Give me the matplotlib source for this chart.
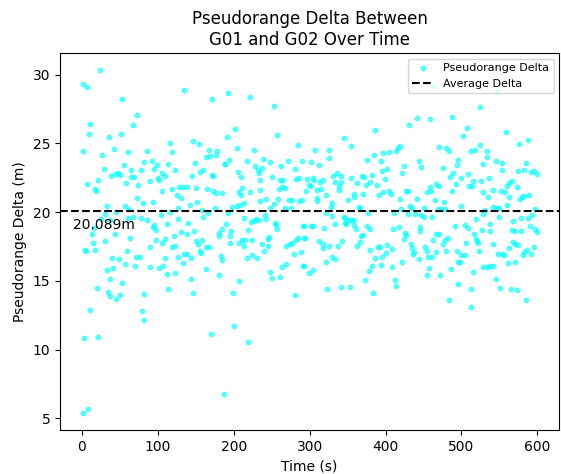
import matplotlib.pyplot as plt

# values (time in s, delta in m)
time_s = [
    24, 1, 7, 53, 73, 11, 67, 9, 51, 35, 2, 42, 61, 27, 82, 55, 29, 65, 78, 38,
    43, 47, 50, 64, 69, 21, 58, 6, 74, 17, 18, 73, 80, 33, 57, 62, 45, 31, 67, 60,
    78, 25, 37, 13, 44, 16, 63, 30, 14, 4, 5, 17, 59, 39, 71, 77, 49, 41, 33, 57,
    70, 37, 53, 20, 34, 37, 45, 50, 82, 10, 79, 82, 3, 21, 2, 8,
    135, 171, 116, 146, 154, 118, 168, 178, 86, 92, 99, 163, 169, 176, 149, 188, 95, 122, 114, 160,
    156, 106, 110, 100, 102, 145, 171, 173, 90, 106, 119, 125, 130, 128, 133, 138, 150, 165, 173, 177,
    185, 94, 151, 142, 126, 175, 158, 166, 116, 104, 127, 160, 86, 95, 93, 98, 140, 112, 130, 138,
    147, 180, 185, 121, 180, 97, 110, 150, 158, 105, 153, 90, 118, 123, 163, 168, 155, 157, 134, 139,
    127, 143, 109, 101, 107, 89, 133, 183, 184, 164, 180, 112, 122, 143, 114, 146, 170, 187,
    193, 222, 253, 202, 257, 191, 285, 204, 227, 290, 189, 194, 218, 239, 248, 271, 228, 237, 232, 233,
    262, 281, 205, 210, 251, 286, 282, 235, 261, 265, 211, 207, 221, 235, 259, 264, 268, 209, 273, 277,
    286, 290, 234, 242, 258, 198, 204, 208, 213, 248, 253, 268, 275, 192, 214, 241, 243, 223, 226, 229,
    233, 254, 255, 257, 291, 190, 197, 219, 195, 245, 246, 195, 207, 211, 215, 224, 214, 237, 245, 240,
    269, 274, 277, 282, 285, 292, 289, 280, 217, 224, 230, 248, 250, 261, 263, 269, 291, 207, 199, 281,
    200, 219,
    386, 345, 355, 307, 326, 325, 397, 385, 302, 312, 376, 394, 395, 297, 305, 306, 314, 317, 299, 302,
    331, 336, 341, 333, 338, 341, 339, 354, 363, 369, 371, 382, 374, 380, 389, 295, 309, 315, 309, 310,
    321, 329, 328, 351, 358, 359, 370, 391, 396, 365, 366, 377, 322, 329, 345, 347, 350, 354, 358, 346,
    348, 359, 361, 375, 379, 293, 302, 305, 319, 333, 370, 368, 294, 312, 318, 317, 325, 337, 343, 366,
    362, 379, 390, 393, 386, 395, 330, 334, 321, 293, 304, 299, 382, 378, 394, 373, 323, 341, 353, 383,
    463, 431, 441, 458, 488, 502, 471, 480, 484, 404, 414, 416, 419, 444, 447, 424, 402, 422, 475, 495,
    494, 489, 485, 499, 399, 458, 454, 460, 467, 470, 405, 407, 427, 429, 419, 442, 465, 477, 488, 493,
    499, 432, 435, 420, 411, 430, 439, 450, 469, 473, 478, 447, 451, 461, 410, 418, 446, 445, 426, 424,
    427, 466, 470, 463, 491, 478, 482, 476, 434, 435, 402, 408, 401, 452, 454, 436, 438, 456, 461, 466,
    480, 494, 500, 444, 422, 409, 457, 455, 472, 486, 496, 498, 412, 414, 496, 483,
    547, 524, 507, 558, 576, 587, 525, 512, 518, 533, 534, 545, 554, 529, 585, 553, 574, 583, 592, 596,
    599, 508, 515, 514, 510, 526, 536, 542, 528, 535, 552, 557, 562, 566, 560, 573, 563, 577, 580, 582,
    589, 560, 541, 547, 550, 531, 597, 550, 529, 593, 588, 578, 519, 538, 504, 509, 527, 538, 516, 519,
    520, 522, 523, 506, 568, 566, 570, 579, 590, 597, 599, 541, 568, 570, 575, 562, 504, 548, 554, 556,
    582, 586, 581, 592, 595, 571, 561, 529, 533, 538, 542, 515, 545, 551, 565, 573, 585, 513, 512,
]

delta_m = [
    30.32, 29.35, 29.10, 28.23, 27.04, 26.39, 26.32, 25.71, 25.71, 25.45, 24.45, 24.60, 24.38, 24.16, 23.65, 23.43, 23.12, 23.05, 23.05, 22.66,
    22.78, 22.83, 22.68, 22.54, 22.54, 22.32, 22.15, 22.03, 21.96, 21.69, 21.57, 21.06, 20.70, 20.46, 20.46, 20.26, 20.02, 19.90, 19.63, 19.56,
    19.56, 19.51, 19.41, 18.44, 18.44, 18.86, 18.11, 17.89, 17.72, 17.28, 17.14, 17.28, 17.21, 16.70, 16.77, 16.72, 16.56, 15.97, 15.78, 16.24,
    16.09, 15.13, 14.84, 14.47, 14.18, 13.89, 13.70, 13.96, 14.04, 12.92, 12.78, 12.17, 10.84, 10.91, 5.41, 5.65,
    28.91, 28.23, 25.06, 25.20, 24.99, 24.38, 24.53, 24.45, 24.45, 23.70, 23.46, 24.04, 24.11, 24.19, 23.58, 23.51, 23.12, 23.05, 23.51, 23.07,
    22.95, 22.85, 22.64, 22.49, 22.37, 22.61, 22.68, 22.64, 22.25, 21.57, 21.71, 21.28, 21.04, 21.84, 21.81, 21.81, 21.74, 21.71, 21.57, 21.40,
    21.42, 20.77, 20.77, 20.53, 20.33, 20.31, 20.12, 19.95, 20.02, 19.78, 19.49, 19.66, 19.41, 19.03, 18.90, 18.71, 19.22, 19.12, 18.54, 18.44,
    18.61, 18.47, 18.81, 18.23, 18.25, 18.01, 18.08, 17.89, 17.94, 17.79, 17.65, 17.43, 17.45, 17.52, 17.45, 17.45, 17.16, 17.04, 16.92, 16.97,
    16.75, 16.63, 16.68, 15.95, 16.12, 16.00, 16.31, 16.80, 16.51, 15.88, 15.44, 15.51, 15.59, 15.13, 14.40, 14.11, 11.15, 6.79,
    28.67, 28.40, 27.72, 26.03, 25.64, 25.49, 24.89, 24.69, 24.53, 23.75, 23.51, 23.80, 23.70, 23.87, 23.65, 23.73, 23.34, 23.22, 23.10, 22.85,
    23.36, 23.14, 22.90, 22.54, 22.54, 22.47, 22.39, 22.32, 22.34, 22.37, 21.79, 21.47, 21.45, 21.64, 21.67, 21.86, 21.79, 21.28, 20.87, 20.89,
    20.82, 20.87, 20.84, 20.99, 20.99, 20.41, 20.43, 20.55, 20.63, 20.33, 20.60, 20.31, 20.29, 19.97, 19.58, 19.78, 19.49, 19.27, 19.39, 19.49,
    19.46, 19.20, 19.10, 18.78, 19.00, 19.15, 18.61, 18.71, 18.25, 18.03, 18.18, 17.72, 17.79, 17.94, 17.96, 17.96, 17.57, 17.67, 17.55, 17.21,
    17.55, 17.65, 17.72, 17.96, 18.15, 18.15, 17.11, 16.92, 16.70, 16.89, 16.70, 15.66, 15.22, 15.30, 16.02, 16.24, 16.07, 14.98, 14.11, 13.96,
    11.71, 10.57,
    25.95, 25.37, 24.84, 24.53, 24.53, 23.94, 24.31, 24.19, 23.65, 23.46, 23.80, 23.73, 23.00, 22.44, 22.51, 22.37, 22.18, 22.32, 22.00, 21.91,
    22.64, 22.81, 22.64, 22.18, 21.93, 22.22, 21.64, 22.47, 22.13, 22.61, 22.54, 22.68, 22.00, 22.22, 22.00, 21.52, 21.64, 21.69, 21.04, 20.79,
    21.28, 20.70, 20.38, 20.87, 21.35, 21.13, 21.33, 21.23, 21.50, 20.38, 20.31, 19.92, 19.95, 19.73, 19.66, 19.56, 19.41, 19.41, 19.41, 19.20,
    19.12, 19.03, 18.74, 18.98, 18.78, 18.98, 18.98, 18.98, 18.83, 19.12, 18.37, 18.25, 18.15, 17.89, 17.69, 17.40, 17.57, 17.52, 17.89, 17.81,
    17.57, 17.23, 17.48, 17.48, 16.63, 16.77, 16.72, 16.58, 16.39, 16.12, 15.78, 15.59, 16.07, 15.71, 16.19, 15.08, 14.40, 14.54, 14.54, 14.11,
    29.15, 26.32, 26.85, 26.78, 26.92, 25.52, 24.77, 24.69, 24.45, 24.36, 24.48, 24.67, 24.82, 23.75, 23.29, 23.39, 23.12, 22.85, 23.19, 23.80,
    23.41, 22.85, 22.54, 22.49, 22.42, 21.81, 21.47, 21.52, 22.01, 21.88, 21.52, 21.33, 21.52, 21.57, 20.99, 20.99, 20.87, 20.77, 21.52, 22.05,
    20.48, 20.43, 20.31, 20.26, 19.97, 19.87, 19.85, 20.29, 20.21, 20.26, 20.24, 19.78, 19.63, 19.66, 18.78, 18.93, 18.95, 18.66, 18.47, 18.03,
    18.35, 18.42, 18.42, 17.96, 18.98, 17.96, 18.11, 17.65, 17.67, 17.40, 17.62, 17.35, 17.02, 17.45, 17.16, 16.99, 17.09, 16.72, 16.77, 17.11,
    17.16, 17.14, 16.89, 16.58, 16.34, 16.02, 15.95, 15.44, 15.44, 15.88, 16.39, 16.41, 15.03, 14.62, 14.79, 13.58,
    28.79, 27.65, 26.12, 25.86, 24.99, 25.28, 24.91, 24.45, 24.53, 24.43, 24.04, 23.70, 23.58, 23.51, 23.58, 23.05, 22.97, 23.05, 22.90, 22.97,
    22.78, 22.78, 22.30, 21.88, 21.88, 22.25, 22.47, 21.64, 21.45, 21.13, 21.52, 21.45, 22.13, 22.30, 21.93, 21.81, 21.13, 20.92, 21.09, 21.18,
    21.28, 20.53, 20.38, 20.31, 20.31, 20.19, 20.24, 19.66, 19.87, 19.78, 19.58, 19.58, 19.51, 19.15, 19.10, 18.86, 18.71, 18.66, 18.44, 18.08,
    17.89, 17.72, 17.14, 17.79, 19.34, 18.71, 18.61, 18.61, 19.00, 18.76, 18.57, 17.65, 17.81, 17.69, 17.62, 17.40, 16.85, 16.92, 16.97, 16.89,
    17.11, 17.28, 16.87, 16.92, 17.43, 16.39, 16.29, 16.02, 16.02, 16.05, 16.12, 15.66, 15.15, 14.47, 14.38, 14.33, 13.58, 14.38, 13.09,
]

avg_delta = 20.089

fig, ax = plt.subplots(figsize=(5.61, 4.74), dpi=100)
fig.subplots_adjust(left=0.107, right=0.997, top=0.888, bottom=0.093)

ax.scatter(time_s, delta_m, s=10, color='cyan', alpha=0.6, label='Pseudorange Delta')
ax.axhline(avg_delta, color='black', linestyle='--', label='Average Delta')
ax.text(-12, avg_delta - 0.55, f"{avg_delta:.3f}m", va='top', ha='left', fontsize=10)

ax.set_title("Pseudorange Delta Between\nG01 and G02 Over Time")
ax.set_xlabel("Time (s)")
ax.set_ylabel("Pseudorange Delta (m)")
ax.legend(loc='upper right', fontsize=8)

fig.savefig("out.png", dpi=100)
